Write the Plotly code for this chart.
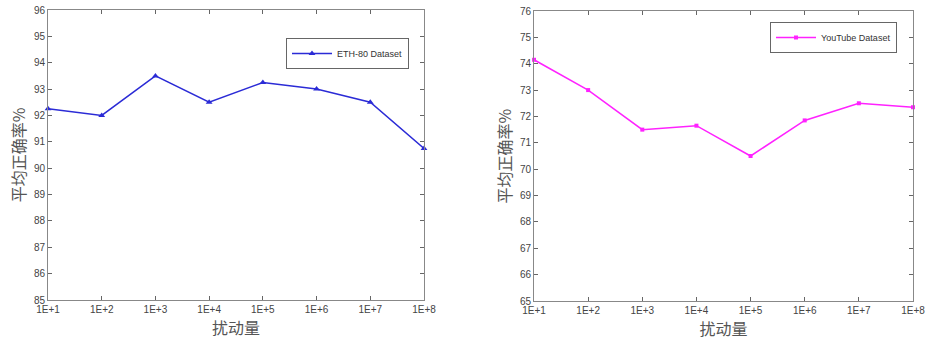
import plotly.graph_objects as go

W, H = 927, 345
tick_labels = ["1E+1", "1E+2", "1E+3", "1E+4", "1E+5", "1E+6", "1E+7", "1E+8"]
eth_values = [92.25, 92.0, 93.5, 92.5, 93.25, 93.0, 92.5, 90.75]
yt_values = [74.15, 73.0, 71.5, 71.65, 70.5, 71.85, 72.5, 72.35]
x_pos = list(range(len(tick_labels)))

fig = go.Figure()
fig.add_trace(go.Scatter(x=x_pos, y=eth_values, mode="lines+markers", name="ETH-80 Dataset",
                         line=dict(color="#2b2bd6", width=1.5),
                         marker=dict(symbol="triangle-up", size=6, color="#2b2bd6"),
                         xaxis="x", yaxis="y", legend="legend", cliponaxis=False))
fig.add_trace(go.Scatter(x=x_pos, y=yt_values, mode="lines+markers", name="YouTube Dataset",
                         line=dict(color="#ff22ff", width=1.5),
                         marker=dict(symbol="square", size=4, color="#ff22ff"),
                         xaxis="x2", yaxis="y2", legend="legend2", cliponaxis=False))

def px(v): return v / W
def py(v): return 1 - v / H

axis_common = dict(showgrid=False, zeroline=False, showline=True, linecolor="#888", linewidth=1,
                   mirror="ticks", ticks="inside", ticklen=4, tickcolor="#666", automargin=False,
                   tickfont=dict(family="Liberation Sans, Arial", size=10, color="#444"))
title_font = dict(family="Noto Sans CJK SC", size=16, color="#555")

fig.update_layout(
    width=W, height=H, margin=dict(l=0, r=0, t=0, b=0),
    paper_bgcolor="white", plot_bgcolor="white", showlegend=True,
    xaxis=dict(domain=[px(48), px(424)], range=[0, 7], tickvals=x_pos, ticktext=tick_labels,
               anchor="y", title=dict(text="扰动量", font=title_font, standoff=2), **axis_common),
    yaxis=dict(domain=[py(300), py(10)], range=[85, 96], dtick=1, anchor="x",
               title=dict(text="平均正确率%", font=title_font, standoff=4), **axis_common),
    xaxis2=dict(domain=[px(534), px(913)], range=[0, 7], tickvals=x_pos, ticktext=tick_labels,
                anchor="y2", title=dict(text="扰动量", font=title_font, standoff=2), **axis_common),
    yaxis2=dict(domain=[py(301), py(11)], range=[65, 76], dtick=1, anchor="x2",
                title=dict(text="平均正确率%", font=title_font, standoff=4), **axis_common),
    legend=dict(x=px(286), y=py(38), xanchor="left", yanchor="top", bgcolor="white",
                bordercolor="#666", borderwidth=1, itemwidth=40,
                font=dict(family="Liberation Sans, Arial", size=9, color="#333"),
                tracegroupgap=0),
    legend2=dict(x=px(770), y=py(22), xanchor="left", yanchor="top", bgcolor="white",
                 bordercolor="#666", borderwidth=1, itemwidth=40,
                 font=dict(family="Liberation Sans, Arial", size=9, color="#333"),
                 tracegroupgap=0),
)
fig.write_html("out.html", config={"displayModeBar": False},
               post_script="document.body.style.margin='0';")
